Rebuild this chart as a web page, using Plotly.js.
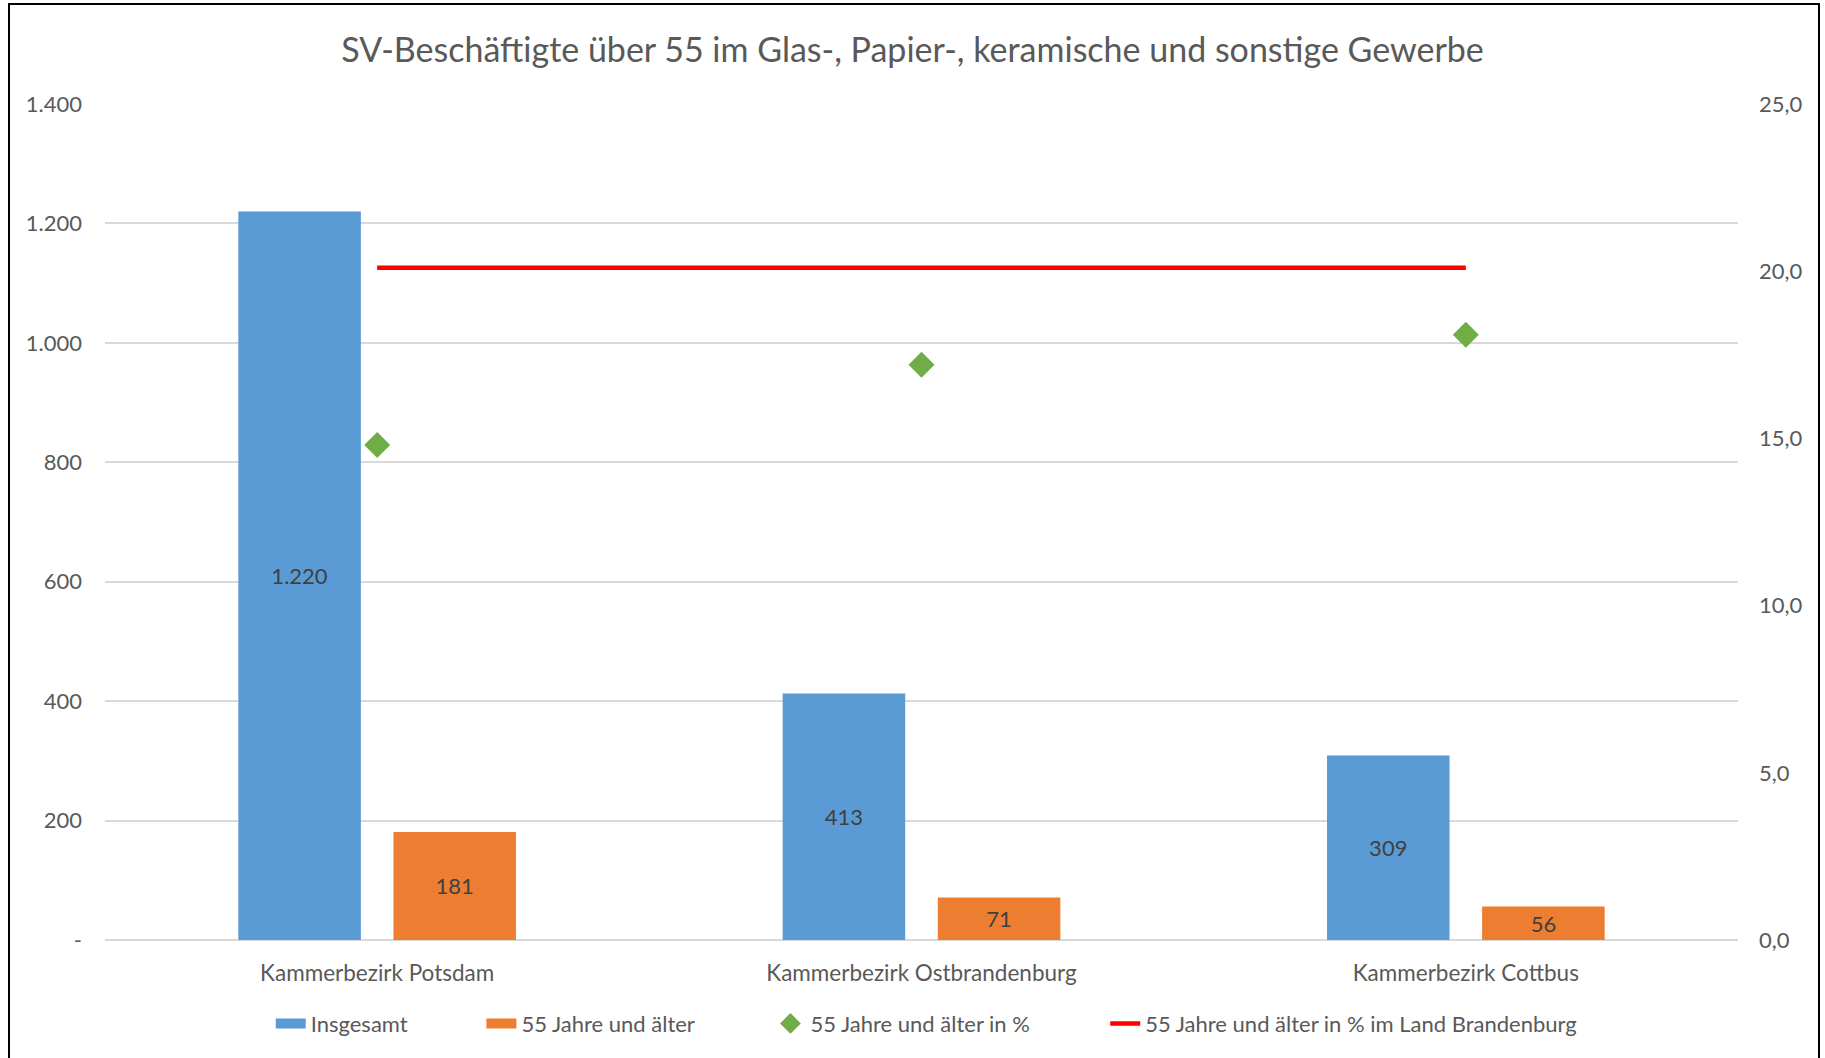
<!DOCTYPE html>
<html>
<head>
<meta charset="utf-8">
<script src="https://cdn.plot.ly/plotly-3.0.1.min.js"></script>
<style>
  body { margin: 0; background: #fff; }
  #chart { width: 1825px; height: 1058px; }
  #frame { position: absolute; left: 8px; top: 3px; width: 1808px; height: 1070px;
           border: 2px solid #000; pointer-events: none; }
</style>
</head>
<body>
<div id="chart"></div>
<div id="frame"></div>
<script>
// Kammerbezirke
const regions = ["Kammerbezirk Potsdam", "Kammerbezirk Ostbrandenburg", "Kammerbezirk Cottbus"];
const total = [1220, 413, 309];
const over55 = [181, 71, 56];
const over55Pct = [14.8, 17.2, 18.1];
const landPct = [20.1, 20.1, 20.1];

const leftTicks = [0, 200, 400, 600, 800, 1000, 1200, 1400];
const leftTickText = ["-", "200", "400", "600", "800", "1.000", "1.200", "1.400"];
const rightTicks = [0, 5, 10, 15, 20, 25];
const rightTickText = ["0,0", "5,0", "10,0", "15,0", "20,0", "25,0"];

const fontFam = "Lato, sans-serif";
const grey = "#595959";
const blue = "#5b9bd5";
const orange = "#ed7d31";

function fmt(v) {
    return v.toLocaleString("de-DE");
}

// legend boxes sit in their own legends so they can be spaced like the original
const data = [
    {
        type: "bar", name: "Insgesamt", x: regions, y: total,
        marker: { color: blue }, showlegend: false, legendgroup: "a",
        text: total.map(fmt), textposition: "inside", insidetextanchor: "middle",
        textfont: { color: "#404040", size: 22, family: fontFam },
        hoverinfo: "y"
    },
    {
        type: "bar", name: "55 Jahre und älter", x: regions, y: over55,
        marker: { color: orange }, showlegend: false, legendgroup: "b",
        text: over55.map(fmt), textposition: "inside", insidetextanchor: "middle",
        textfont: { color: "#404040", size: 22, family: fontFam },
        hoverinfo: "y"
    },
    {
        type: "scatter", mode: "markers", name: "55 Jahre und älter in %",
        x: regions, y: over55Pct, yaxis: "y2", legend: "legend3",
        marker: { symbol: "diamond", size: 20, color: "#70ad47" }
    },
    {
        type: "scatter", mode: "lines", name: "55 Jahre und älter in % im Land Brandenburg",
        x: regions, y: landPct, yaxis: "y2", legend: "legend4",
        line: { color: "#ff0000", width: 4.5 }
    },
    // legend keys for the bars
    {
        type: "scatter", mode: "lines", name: "Insgesamt", x: [null], y: [null],
        legendgroup: "a", line: { color: blue, width: 14 }, hoverinfo: "skip"
    },
    {
        type: "scatter", mode: "lines", name: "55 Jahre und älter", x: [null], y: [null],
        legendgroup: "b", legend: "legend2", line: { color: orange, width: 14 }, hoverinfo: "skip"
    }
];

const legFont = { size: 22, color: grey, family: fontFam };
function leg(x) {
    return { orientation: "h", x: x, xanchor: "left", y: -0.1, yanchor: "middle", font: legFont };
}

const layout = {
    width: 1825, height: 1058,
    margin: { l: 105, r: 87, t: 104, b: 118 },
    paper_bgcolor: "#fff", plot_bgcolor: "#fff",
    font: { family: fontFam, color: grey, size: 22 },
    title: {
        text: "SV-Beschäftigte über 55 im Glas-, Papier-, keramische und sonstige Gewerbe",
        font: { size: 34, color: grey, family: fontFam },
        x: 0.5, xanchor: "center", y: 0.953, yanchor: "middle"
    },
    barmode: "group", bargap: 0.43, bargroupgap: 0.21,
    showlegend: true,
    legend: leg(0.1015),
    legend2: leg(0.2305),
    legend3: leg(0.4075),
    legend4: leg(0.6125),
    xaxis: {
        type: "category", showgrid: false, zeroline: false, showline: false,
        ticks: "", ticklabelstandoff: 17, tickfont: { size: 22.5, color: grey }
    },
    yaxis: {
        range: [0, 1400], tickvals: leftTicks, ticktext: leftTickText,
        showgrid: true, gridcolor: "#d9d9d9", gridwidth: 1.5, zeroline: true,
        zerolinecolor: "#d9d9d9", zerolinewidth: 2, showline: false, ticks: "",
        ticklabelstandoff: 22, tickfont: { size: 22, color: grey }
    },
    yaxis2: {
        overlaying: "y", side: "right", range: [0, 25],
        tickvals: rightTicks, ticktext: rightTickText,
        showgrid: false, zeroline: false, showline: false, ticks: "",
        ticklabelstandoff: 20, tickfont: { size: 22, color: grey }
    }
};

Plotly.newPlot("chart", data, layout, { displayModeBar: false });
</script>
</body>
</html>
